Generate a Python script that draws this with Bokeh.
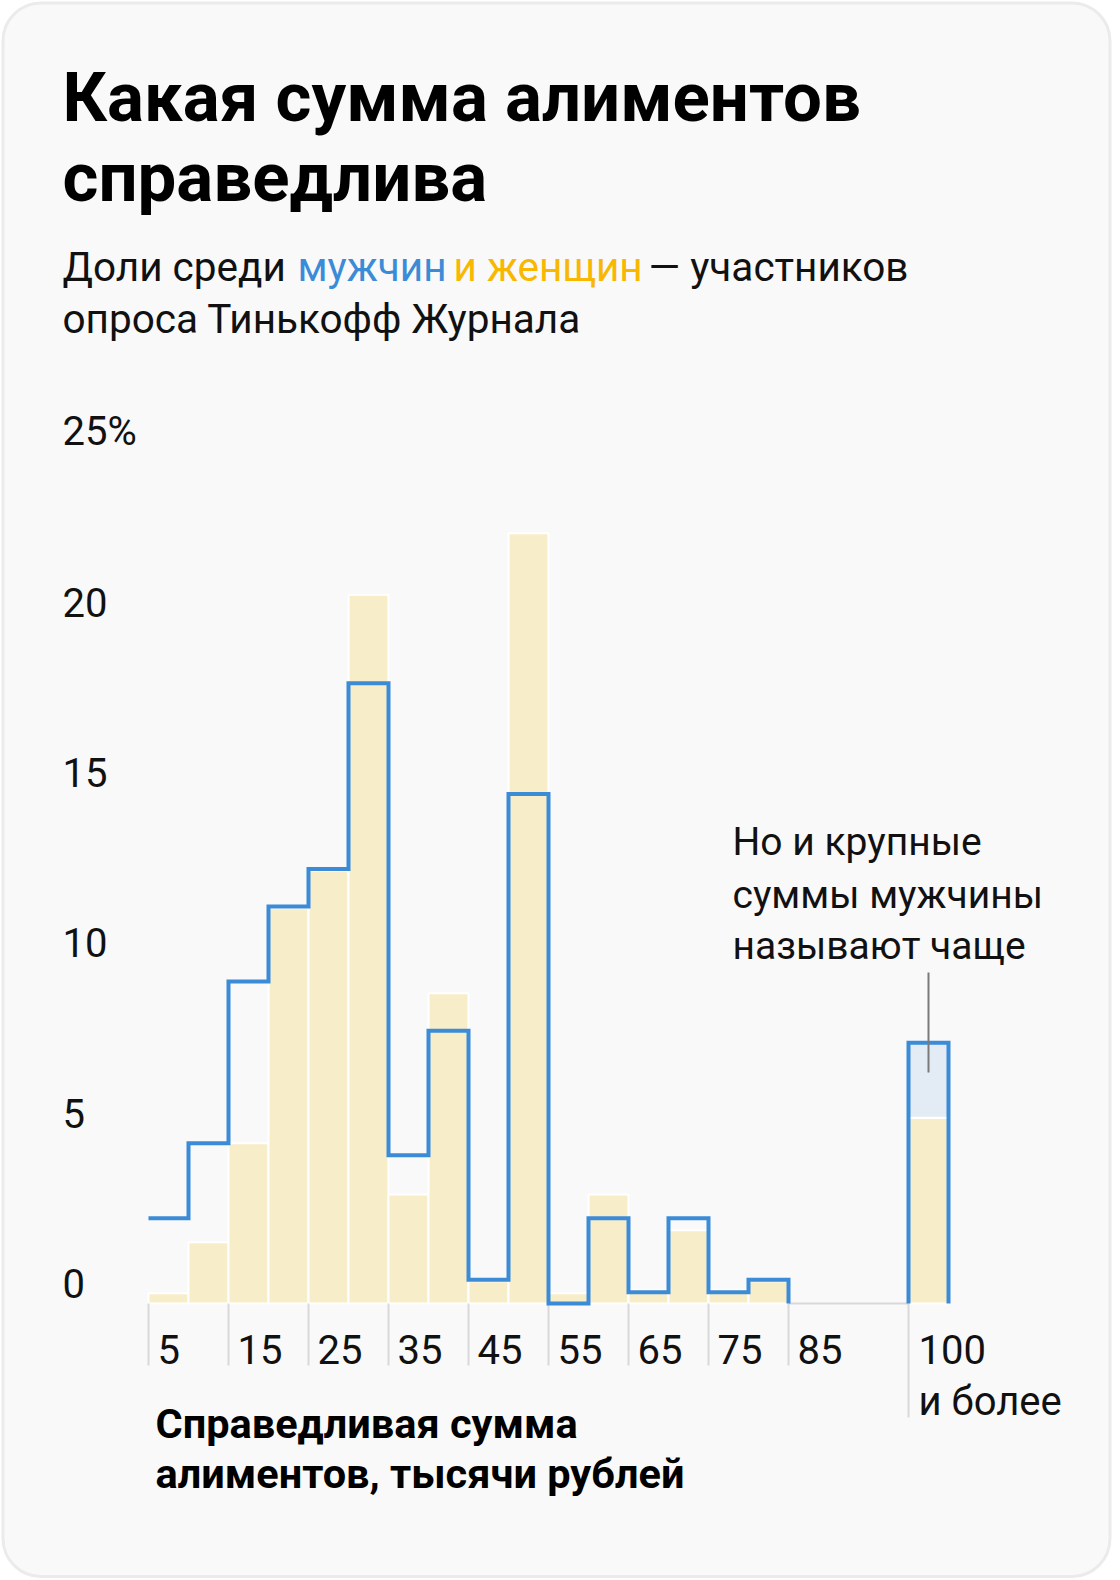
from bokeh.plotting import figure
from bokeh.models import Range1d
from bokeh.core.properties import value
from bokeh.embed import file_html
from bokeh.resources import INLINE

# ---------------- data ----------------
title_lines = ["Какая сумма алиментов", "справедлива"]
subtitle_parts = ["Доли среди", "мужчин", "и женщин", "— участников"]
subtitle_line2 = "опроса Тинькофф Журнала"

bin_centers = [5, 10, 15, 20, 25, 30, 35, 40, 45, 50, 55, 60, 65, 70, 75, 80, 100]
women = [0.3, 1.8, 4.7, 11.6, 12.7, 20.8, 3.2, 9.1, 0.65, 22.6, 0.3, 3.2, 0.4, 2.15, 0.4, 0.65, 5.45]
men = [2.5, 4.7, 9.45, 11.65, 12.75, 18.2, 4.35, 8.0, 0.7, 14.95, 0.0, 2.5, 0.33, 2.5, 0.33, 0.7, 7.65]
bin_width = 5

y_ticks = [0, 5, 10, 15, 20, 25]
y_tick_labels = ["0", "5", "10", "15", "20", "25%"]
x_tick_values = [5, 15, 25, 35, 45, 55, 65, 75, 85]
x_tick_labels = ["5", "15", "25", "35", "45", "55", "65", "75", "85"]
last_tick_value = 100
last_tick_labels = ["100", "и более"]

annotation_lines = ["Но и крупные", "суммы мужчины", "называют чаще"]
axis_title_lines = ["Справедливая сумма", "алиментов, тысячи рублей"]

# ---------------- layout ----------------
W, H = 1112, 1578
XPU = 8.0        # px per x unit
YPU = 34.08      # px per y unit
X_EDGE = 148     # px of first bin's left edge
Y0 = 1303        # px of value 0
BASE_SHIFT = 0.37  # rendered baseline sits this many em below the anchor
first_edge = bin_centers[0] - bin_width / 2


def ax(X):
    return first_edge + (X - X_EDGE) / XPU


def ay(Y):
    return (Y0 - Y) / YPU


BLUE = "#3b8bd7"
YELLOW_TXT = "#f8b700"
BAR = "#f8edc9"
LIGHT_BLUE = "#e3ebf4"
GRAY = "#d9d9d9"
TXT = "#111111"
FONT = value("Roboto")

p = figure(width=W, height=H, x_range=Range1d(ax(0), ax(W)),
           y_range=Range1d(ay(H), ay(0)),
           x_axis_type=None, y_axis_type=None,
           output_backend="svg", toolbar_location=None, min_border=0)
p.outline_line_color = None
p.background_fill_color = "white"
p.border_fill_color = "white"

# card
p.quad(left=[ax(2.5)], right=[ax(1109.5)], top=[ay(2.5)], bottom=[ay(1576)],
       fill_color="#f9f9f9", line_color="#ebebeb", line_width=3, border_radius=38)

half = bin_width / 2
lefts = [c - half for c in bin_centers]
rights = [c + half for c in bin_centers]

# women bars
p.quad(left=lefts, right=rights, bottom=[0] * len(women), top=women,
       fill_color=BAR, line_color="white", line_width=2)

# light blue excess in isolated last bin
p.quad(left=[lefts[-1]], right=[rights[-1]], bottom=[women[-1]], top=[men[-1]],
       fill_color=LIGHT_BLUE, line_color=None)
p.segment(x0=[lefts[-1]], x1=[rights[-1]], y0=[women[-1]], y1=[women[-1]],
          line_color="white", line_width=2)

# ticks
tick_pos = [v - half for v in x_tick_values]
p.segment(x0=tick_pos, x1=tick_pos, y0=[0] * len(tick_pos), y1=[ay(1365)] * len(tick_pos),
          line_color=GRAY, line_width=2)
last_pos = last_tick_value - half
p.segment(x0=[last_pos], x1=[last_pos], y0=[0], y1=[ay(1417)], line_color=GRAY, line_width=2)
# baseline in the gap
p.segment(x0=[rights[-2]], x1=[lefts[-1]], y0=[0], y1=[0], line_color=GRAY, line_width=2)

# men step line over contiguous bins
groups = []
cur = [0]
for i in range(1, len(bin_centers)):
    if bin_centers[i] - bin_centers[i - 1] == bin_width:
        cur.append(i)
    else:
        groups.append(cur)
        cur = [i]
groups.append(cur)
for g in groups:
    xs, ys = [], []
    if len(g) == 1:
        xs.append(lefts[g[0]]); ys.append(0)
    for i in g:
        xs += [lefts[i], rights[i]]
        ys += [men[i], men[i]]
    xs.append(rights[g[-1]]); ys.append(0)
    p.line(xs, ys, line_color=BLUE, line_width=4, line_join="miter")

# leader line
p.segment(x0=[bin_centers[-1]], x1=[bin_centers[-1]], y0=[ay(972)], y1=[ay(1072)],
          line_color="#7a7a7a", line_width=2)


def txt(xs, baselines_px, texts, size, color=TXT, bold=False):
    ys = [ay(b - BASE_SHIFT * size) for b in baselines_px]
    p.text(x=xs, y=ys, text=texts, text_font=FONT, text_font_size=f"{size}px",
           text_font_style="bold" if bold else "normal", text_color=color,
           text_align="left", text_baseline="alphabetic")


# title
txt([ax(62)] * 2, [123, 203], title_lines, 69, "#000000", bold=True)
# subtitle
sub_x = [62, 297, 453, 648]
sub_c = [TXT, BLUE, YELLOW_TXT, TXT]
for s, xx, cc in zip(subtitle_parts, sub_x, sub_c):
    txt([ax(xx)], [281], [s], 40.5, cc)
txt([ax(62)], [333], [subtitle_line2], 40.5)

# y tick labels (baseline a few px above the value line)
txt([ax(62)] * len(y_ticks), [Y0 - v * YPU - 5 for v in y_ticks], y_tick_labels, 40)

# x tick labels
txt([t + 9 / XPU for t in tick_pos], [1364] * len(tick_pos), x_tick_labels, 40)
txt([last_pos + 10 / XPU] * 2, [1364, 1416], last_tick_labels, 40)

# annotation
txt([ax(732)] * 3, [856, 909, 960], annotation_lines, 39)

# axis title
txt([ax(155)] * 2, [1438, 1488], axis_title_lines, 41.5, "#000000", bold=True)

open("out.html", "w").write(file_html(p, INLINE))
